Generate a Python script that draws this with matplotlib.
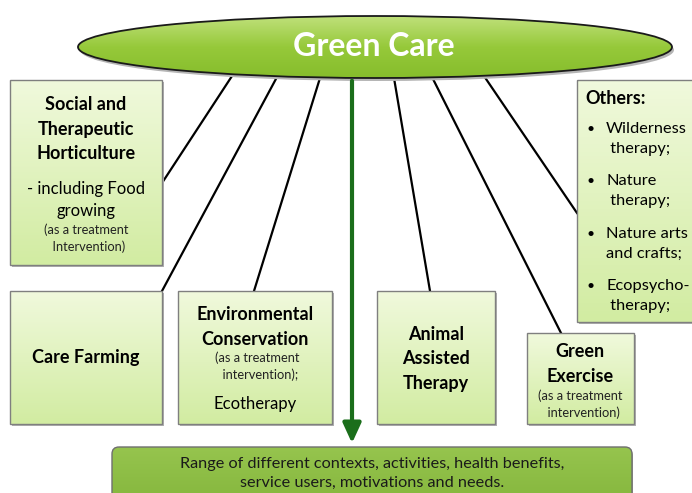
import numpy as np
import matplotlib
matplotlib.use("Agg")
import matplotlib.pyplot as plt
from matplotlib.patches import Ellipse, Rectangle, FancyBboxPatch
from matplotlib.colors import LinearSegmentedColormap

plt.rcParams['font.family'] = ['Lato', 'DejaVu Sans']

# diagram content
title = "Green Care"
box_titles = ["Social and\nTherapeutic\nHorticulture", "Care Farming",
              "Environmental\nConservation", "Animal\nAssisted\nTherapy",
              "Green\nExercise"]
box_notes = ["(as a treatment\n  Intervention)", "", "(as a treatment\n  intervention);",
             "", "(as a treatment\n  intervention)"]
box_extra = ["- including Food\ngrowing", "", "Ecotherapy", "", ""]
others_title = "Others:"
others_items = ["Wilderness\n therapy;", "Nature\n therapy;", "Nature arts\nand crafts;",
                "Ecopsycho-\n therapy;"]
bottom_text = "Range of different contexts, activities, health benefits,\nservice users, motivations and needs."

# layout in pixels (x0, y0, x1, y1)
boxes = [(10, 80, 162, 265), (10, 291, 162, 424), (178, 291, 332, 424),
         (377, 291, 495, 424), (527, 333, 634, 424)]
others_box = (577, 80, 700, 322)
links = [((232, 76), (162, 183)), ((277, 77), (162, 291)), ((320, 78), (254, 291)),
         ((394, 78), (430, 291)), ((432, 77), (561, 333)), ((484, 76), (577, 213))]

W, H = 692, 493
fig = plt.figure(figsize=(W / 100, H / 100), dpi=100)
ax = fig.add_axes([0, 0, 1, 1])
ax.set_xlim(0, W)
ax.set_ylim(H, 0)
ax.axis('off')

box_cmap = LinearSegmentedColormap.from_list('bx', ['#f0f9dc', '#d2eca2'])
ell_cmap = LinearSegmentedColormap.from_list('el', ['#bfe07a', '#96c93a', '#86bd2c'])
bot_cmap = LinearSegmentedColormap.from_list('bt', ['#96c44e', '#84b63c'])
grad = np.linspace(0, 1, 64).reshape(-1, 1)


def grad_box(x0, y0, x1, y1, cmap=box_cmap, z=2):
    # shadow
    ax.add_patch(Rectangle((x0 + 2, y0 + 2), x1 - x0, y1 - y0, facecolor='#b0b0b0',
                           edgecolor='none', zorder=z - 0.5))
    im = ax.imshow(grad, cmap=cmap, extent=(x0, x1, y1, y0), aspect='auto', zorder=z)
    r = Rectangle((x0, y0), x1 - x0, y1 - y0, facecolor='none', edgecolor='#7f7f7f',
                  lw=1.0, zorder=z + 0.1)
    ax.add_patch(r)
    im.set_clip_path(r)


# connector lines
for (a, b) in links:
    ax.plot([a[0], b[0]], [a[1], b[1]], color='black', lw=1.6, zorder=1)

# ellipse
ell = Ellipse((375, 47), 594, 62, facecolor='none', edgecolor='#1a1a1a', lw=1.3, zorder=4)
ax.add_patch(Ellipse((377, 50), 594, 62, facecolor='#b5b5b5', edgecolor='none', zorder=3))
im = ax.imshow(grad, cmap=ell_cmap, extent=(78, 672, 78, 16), aspect='auto', zorder=3.5)
ax.add_patch(ell)
im.set_clip_path(ell)
ax.text(374, 47, title, ha='center', va='center', fontsize=23, fontweight='bold',
        color='white', zorder=5)

# arrow
ax.annotate('', xy=(352, 446), xytext=(352, 78),
            arrowprops=dict(arrowstyle='-|>,head_width=0.55,head_length=1.2',
                            color='#1b6e1b', lw=3), zorder=6)

# boxes
for (x0, y0, x1, y1) in boxes:
    grad_box(x0, y0, x1, y1)

tsize = 13
rsize = 12
nsize = 9.3
ax.text(86, 129, box_titles[0], ha='center', va='center', fontsize=tsize,
        fontweight='bold', linespacing=1.55, zorder=5)
ax.text(86, 200, box_extra[0], ha='center', va='center', fontsize=rsize,
        linespacing=1.47, zorder=5)
ax.text(86, 238, box_notes[0], ha='center', va='center', fontsize=nsize,
        linespacing=1.45, color='#222222', zorder=5)

ax.text(86, 358, box_titles[1], ha='center', va='center', fontsize=tsize,
        fontweight='bold', zorder=5)

ax.text(255, 327, box_titles[2], ha='center', va='center', fontsize=tsize,
        fontweight='bold', linespacing=1.55, zorder=5)
ax.text(257, 366, box_notes[2], ha='center', va='center', fontsize=nsize,
        linespacing=1.45, color='#222222', zorder=5)
ax.text(255, 404, box_extra[2], ha='center', va='center', fontsize=rsize, zorder=5)

ax.text(436, 359, box_titles[3], ha='center', va='center', fontsize=tsize,
        fontweight='bold', linespacing=1.52, zorder=5)

ax.text(580, 364, box_titles[4], ha='center', va='center', fontsize=tsize,
        fontweight='bold', linespacing=1.55, zorder=5)
ax.text(580, 404, box_notes[4], ha='center', va='center', fontsize=nsize,
        linespacing=1.45, color='#222222', zorder=5)

# others box
grad_box(*others_box)
ax.text(585, 99, others_title, ha='left', va='center', fontsize=tsize,
        fontweight='bold', zorder=5)
item_y = [139, 191, 244, 296]
for y, item in zip(item_y, others_items):
    ax.text(591, y - 10, u'\u2022', ha='center', va='center', fontsize=10, zorder=5)
    ax.text(606, y, item, ha='left', va='center', fontsize=11.8, linespacing=1.48, zorder=5)

# bottom box
ax.add_patch(FancyBboxPatch((114, 449), 519, 60, boxstyle='round,pad=0,rounding_size=7',
                            facecolor='#a0a0a0', edgecolor='none', zorder=1.5))
bb = FancyBboxPatch((112, 447), 520, 60, boxstyle='round,pad=0,rounding_size=7',
                    facecolor='none', edgecolor='#6f6f6f', lw=1.0, zorder=2.1)
im = ax.imshow(grad, cmap=bot_cmap, extent=(112, 632, 507, 447), aspect='auto', zorder=2)
ax.add_patch(bb)
im.set_clip_path(bb)
ax.text(372, 473, bottom_text, ha='center', va='center', fontsize=11.7,
        linespacing=1.45, color='#1a1a1a', zorder=5)

fig.savefig('out.png', dpi=100)
